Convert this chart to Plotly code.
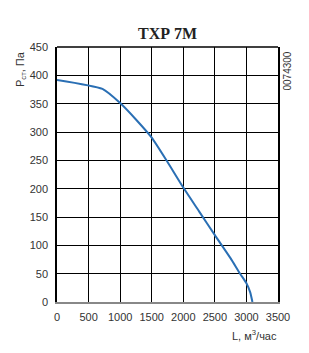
import plotly.graph_objects as go

flow = [0, 720, 1000, 1250, 1500, 1750, 2000, 2250, 2500, 2750, 2900, 3000, 3060, 3095]
pressure = [392, 376, 351, 322, 290, 247, 202, 160, 118, 77, 50, 33, 17, 0]
x_ticks = [0, 500, 1000, 1500, 2000, 2500, 3000, 3500]
y_ticks = [0, 50, 100, 150, 200, 250, 300, 350, 400, 450]

fig = go.Figure()
fig.add_trace(go.Scatter(x=flow, y=pressure, mode="lines",
                         line=dict(color="#2a6fb4", width=2, shape="spline", smoothing=0.55),
                         hoverinfo="skip"))

tick_font = dict(family="Liberation Sans Narrow, Arial, sans-serif", size=11, color="#333")
fig.update_layout(
    width=309, height=353,
    margin=dict(l=57, r=31, t=47, b=51),
    paper_bgcolor="white", plot_bgcolor="white",
    showlegend=False,
    xaxis=dict(range=[0, 3500], tickvals=x_ticks, ticks="", showgrid=True,
               gridcolor="black", gridwidth=1.3, zeroline=False,
               showline=True, linecolor="#888", linewidth=1.5, mirror=False,
               tickfont=tick_font, ticklabelstandoff=4),
    yaxis=dict(range=[0, 450], tickvals=y_ticks, ticks="", showgrid=True,
               gridcolor="black", gridwidth=1.3, zeroline=False,
               showline=True, linecolor="black", linewidth=1.5, mirror=True,
               tickfont=tick_font, ticklabelstandoff=5),
    annotations=[
        dict(text="<b>ТХР 7М</b>", xref="paper", yref="paper", x=0.5, y=1, yshift=24,
             showarrow=False, font=dict(family="Liberation Serif, serif", size=16, color="#222")),
        dict(text="P<sub>ст</sub>, Па", xref="paper", yref="paper", x=0, y=1, xshift=-36, yshift=-2,
             textangle=-90, showarrow=False, xanchor="center", yanchor="top",
             font=dict(family="Liberation Sans Narrow, Arial, sans-serif", size=11, color="#333")),
        dict(text="0074300", xref="paper", yref="paper", x=1, y=1, xshift=9, yshift=-3,
             textangle=-90, showarrow=False, xanchor="center", yanchor="top",
             font=dict(family="Liberation Sans Narrow, Arial, sans-serif", size=10, color="#333")),
        dict(text="L, м<sup>3</sup>/час", xref="paper", yref="paper", x=1, y=0, xshift=1, yshift=-33,
             showarrow=False, xanchor="right", yanchor="middle",
             font=dict(family="Liberation Sans Narrow, Arial, sans-serif", size=11, color="#333")),
    ],
)
fig.add_shape(type="line", xref="paper", yref="paper", x0=0, x1=1, y0=1, y1=1,
              line=dict(color="black", width=1.5))
fig.write_html("out.html")
